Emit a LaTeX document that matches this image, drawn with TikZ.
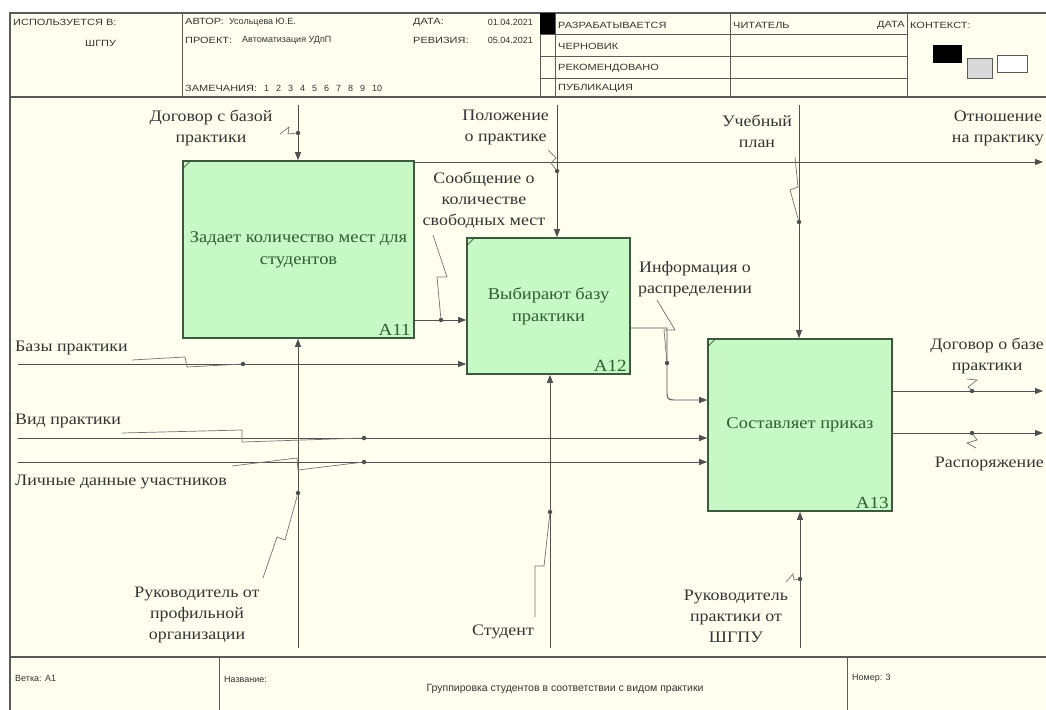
\documentclass[tikz,border=0pt]{standalone}
\usepackage{fontspec}
\setmainfont{Liberation Serif}[FakeStretch=1.12]
\newfontfamily\hdrfont{Liberation Sans}
\newfontfamily\capsfont{Liberation Sans}[FakeStretch=1.22]
\usetikzlibrary{arrows.meta,positioning,calc}
\definecolor{paper}{HTML}{FFFFF0}
\definecolor{boxfill}{HTML}{C6F9C6}
\definecolor{boxline}{HTML}{3E5A3E}
\definecolor{boxtext}{HTML}{2B5F2B}
\definecolor{wire}{HTML}{505050}
\definecolor{frameline}{HTML}{5A5A5A}
\definecolor{labeltext}{HTML}{333333}
\tikzset{
  func/.style={rectangle,draw=boxline,line width=1.6pt,fill=boxfill,align=center,text=boxtext,font=\fontsize{16.5}{22}\selectfont,inner sep=0pt},
  boxid/.style={text=boxtext,font=\fontsize{17}{20}\selectfont,inner sep=1pt,anchor=south east},
  lbl/.style={align=center,text=labeltext,font=\fontsize{16}{21}\selectfont,inner sep=0pt},
  hdr/.style={anchor=west,text=labeltext,font=\hdrfont\fontsize{9}{10}\selectfont,inner sep=0pt},
  hdrcap/.style={hdr,font=\capsfont\fontsize{9}{10}\selectfont},
  arr/.style={draw=wire,line width=0.9pt,-{Triangle[length=8pt,width=6pt]}},
  squig/.style={draw=wire!80,line width=0.7pt},
  knot/.style={circle,fill=wire,inner sep=0pt,minimum size=4.5pt},
  frame/.style={draw=frameline,line width=1.6pt},
  cell/.style={draw=frameline,line width=0.9pt}
}
\newcommand{\nums}{1\hspace{7pt}2\hspace{7pt}3\hspace{7pt}4\hspace{7pt}5\hspace{7pt}6\hspace{7pt}7\hspace{7pt}8\hspace{7pt}9\hspace{7pt}10}
\begin{document}
\begin{tikzpicture}[x=1pt,y=-1pt]
  \useasboundingbox (0,0) rectangle (1046,709);
  \fill[white] (0,0) rectangle (1046,709);
  \fill[paper] (10,13) rectangle (1052,715);
  \draw[frame] (10,715) -- (10,13) -- (1052,13) (10,97) -- (1052,97) (10,657) -- (1052,657);
  \draw[cell] (182,13) -- (182,97) (540,13) -- (540,97) (555,13) -- (555,97) (730,13) -- (730,97) (907,13) -- (907,97);
  \draw[cell] (540,34) -- (907,34) (540,56) -- (907,56) (540,78) -- (907,78);
  \draw[cell] (219,657) -- (219,715) (847,657) -- (847,715);
  \fill[black] (540,13) rectangle (555,34);
  \node[hdrcap] (used) at (13,22) {ИСПОЛЬЗУЕТСЯ В:};
  \node[hdrcap] (org) at (85,43) {ШГПУ};
  \node[hdrcap] (author) at (185,22) {АВТОР:\hspace{5pt}{\hdrfont Усольцева Ю.Е.}};
  \node[hdrcap] (proj) at (185,40) {ПРОЕКТ:};
  \node[hdr] (projv) at (242,40) {Автоматизация УДпП};
  \node[hdrcap] (notes) at (185,88) {ЗАМЕЧАНИЯ:};
  \node[hdr] (notesv) at (264,88) {\nums};
  \node[hdrcap] (date) at (413,22) {ДАТА:};
  \node[hdr,anchor=east] (datev) at (533,22) {01.04.2021};
  \node[hdrcap] (rev) at (413,40) {РЕВИЗИЯ:};
  \node[hdr,anchor=east] (revv) at (533,40) {05.04.2021};
  \node[hdrcap] (st1) at (558,25) {РАЗРАБАТЫВАЕТСЯ};
  \node[hdrcap] (st2) at (558,46) {ЧЕРНОВИК};
  \node[hdrcap] (st3) at (558,68) {РЕКОМЕНДОВАНО};
  \node[hdrcap] (st4) at (558,88) {ПУБЛИКАЦИЯ};
  \node[hdrcap] (reader) at (733,25) {ЧИТАТЕЛЬ};
  \node[hdrcap,anchor=east] (rdate) at (905,25) {ДАТА};
  \node[hdrcap] (ctx) at (910,25) {КОНТЕКСТ:};
  \fill[black] (933,45) rectangle (962,63);
  \draw[cell,fill=black!15] (967,58) rectangle (992,78);
  \draw[cell,fill=white] (997,55) rectangle (1027,72);
  \node[hdr] (node) at (15,678) {Ветка: А1};
  \node[hdr] (title) at (224,679) {Название:};
  \node[hdr,anchor=center,font=\hdrfont\fontsize{10.5}{12}\selectfont] (titletext) at (565,689) {Группировка студентов в соответствии с видом практики};
  \node[hdr] (num) at (852,678) {Номер: 3};

  \node[func,minimum width=231pt,minimum height=177pt] (a11) at (298.5,249.5) {Задает количество мест для\\студентов};
  \node[func,minimum width=163pt,minimum height=136pt] (a12) at (548.5,306) {Выбирают базу\\практики};
  \node[func,minimum width=184pt,minimum height=172pt] (a13) at (800,425) {Составляет приказ};
  \foreach \b/\t in {a11/A11,a12/A12,a13/A13}{
    \node[boxid] at ($(\b.south east)+(-3,-2)$) {\t};
    \draw[boxline,line width=0.8pt] ($(\b.north west)+(0,9)$) -- ($(\b.north west)+(9,0)$);
  }

  \coordinate (c11) at (298,105);
  \coordinate (c12) at (557,105);
  \coordinate (c13) at (799,105);
  \coordinate (i1) at (18,364);
  \coordinate (i2) at (18,438);
  \coordinate (i3) at (18,462);
  \coordinate (m11) at (298,648);
  \coordinate (m12) at (550,648);
  \coordinate (m13) at (800,648);
  \coordinate (o1) at (1043,162);
  \coordinate (o2) at (1043,391);
  \coordinate (o3) at (1043,433);
  \coordinate (bend) at (667,328);

  \draw[arr] (c11) -- (c11 |- a11.north);
  \draw[arr] (c12) -- (c12 |- a12.north);
  \draw[arr] (c13) -- (c13 |- a13.north);
  \draw[arr] (a11.east |- o1) -- (o1);
  \draw[arr] (a11.east |- 0,320) -- (a12.west |- 0,320);
  \draw[arr] (i1) -- (a12.west |- i1);
  \draw[arr] (i2) -- (a13.west |- i2);
  \draw[arr] (i3) -- (a13.west |- i3);
  \draw[arr] (m11) -- (m11 |- a11.south);
  \draw[arr] (m12) -- (m12 |- a12.south);
  \draw[arr] (m13) -- (m13 |- a13.south);
  \draw[arr] (a12.east |- bend) -- (bend) -- (667,390) .. controls (667,400) .. (678,400) -- (a13.west |- 0,400);
  \draw[arr] (a13.east |- o2) -- (o2);
  \draw[arr] (a13.east |- o3) -- (o3);

  \node[lbl] (l1) at (211,128) {Договор с базой\\практики};
  \node[lbl,anchor=east] (l2) at (549,127) {Положение\\о практике};
  \node[lbl] (l3) at (757,131) {Учебный\\план};
  \node[lbl,anchor=east] (l4) at (1044,128) {Отношение\\на практику};
  \node[lbl] (l5) at (484,200) {Сообщение о\\количестве\\свободных мест};
  \node[lbl] (l6) at (695,279) {Информация о\\распределении};
  \node[lbl,anchor=west] (l7) at (15,348) {Базы практики};
  \node[lbl,anchor=west] (l8) at (15,421) {Вид практики};
  \node[lbl,anchor=west] (l9) at (15,482) {Личные данные участников};
  \node[lbl] (l10) at (197,615) {Руководитель от\\профильной\\организации};
  \node[lbl] (l11) at (503,632) {Студент};
  \node[lbl] (l12) at (736,616) {Руководитель\\практики от\\ШГПУ};
  \node[lbl,anchor=east] (l13) at (1044,356) {Договор о базе\\практики};
  \node[lbl,anchor=east] (l14) at (1044,464) {Распоряжение};

  \node[knot] (k1) at (298,133) {};
  \node[knot] (k2) at (557,171) {};
  \node[knot] (k3) at (799,222) {};
  \node[knot] (k4) at (441,320) {};
  \node[knot] (k5) at (243,364) {};
  \node[knot] (k6) at (364,438) {};
  \node[knot] (k7) at (364,462) {};
  \node[knot] (k8) at (667,363) {};
  \node[knot] (k9) at (298,493) {};
  \node[knot] (k10) at (550,512) {};
  \node[knot] (k11) at (800,579) {};
  \node[knot] (k12) at (972,391) {};
  \node[knot] (k13) at (972,433) {};

  \draw[squig] (280,134) -- (289,127) -- (288,134) -- (k1);
  \draw[squig] (548,150) -- (556,158) -- (551,163) -- (k2);
  \draw[squig] (795,157) -- (798,187) -- (790,190) -- (k3);
  \draw[squig] (433,235) -- (447,277) -- (437,277) -- (k4);
  \draw[squig] (132,360) -- (185,357) -- (187,367) -- (k5);
  \draw[squig] (122,433) -- (242,430) -- (242,442) -- (k6);
  \draw[squig] (232,466) -- (297,458) -- (298,470) -- (k7);
  \draw[squig] (657,300) -- (675,330) -- (664,330) -- (k8);
  \draw[squig] (263,578) -- (277,537) -- (285,540) -- (k9);
  \draw[squig] (535,617) -- (535,566) -- (544,566) -- (k10);
  \draw[squig] (786,582) -- (793,574) -- (794,580) -- (k11);
  \draw[squig] (967,379) -- (977,380) -- (968,387) -- (k12);
  \draw[squig] (k13) -- (977,440) -- (967,443) -- (976,448);
\end{tikzpicture}
\end{document}
